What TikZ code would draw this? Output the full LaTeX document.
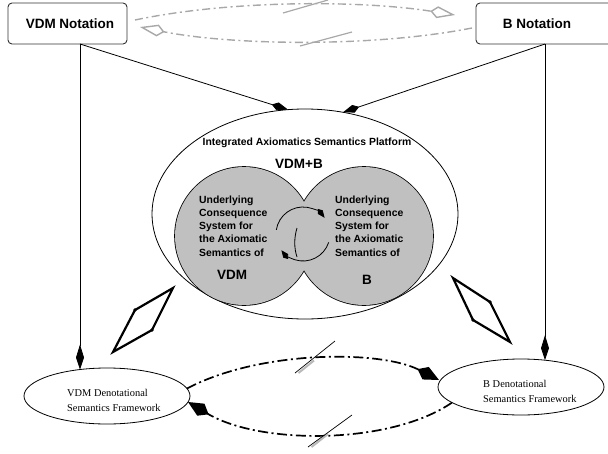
\documentclass[tikz,border=0pt]{standalone}
\usepackage{fontspec}
\setmainfont{Liberation Serif}
\setsansfont{Liberation Sans}
\usetikzlibrary{arrows.meta,shapes.geometric}
\definecolor{circgray}{RGB}{192,192,192}
\definecolor{dashgray}{RGB}{168,168,168}
\definecolor{boxline}{RGB}{50,50,50}
\tikzset{
  notebox/.style={draw=boxline, line width=0.9pt, rounded corners=4pt, inner sep=0pt},
  notetext/.style={inner sep=0pt, font=\sffamily\bfseries\fontsize{13.5}{16}\selectfont},
  denot/.style={draw, ellipse, line width=0.8pt, inner sep=0pt, minimum width=166pt, minimum height=56pt},
  denottext/.style={align=left, inner sep=0pt, anchor=north west, font=\rmfamily\fontsize{10.4}{15}\selectfont},
  platform/.style={draw, ellipse, line width=0.8pt, inner sep=0pt, minimum width=306pt, minimum height=210pt},
  subsys/.style={circle, fill=circgray, inner sep=0pt, minimum size=138pt},
  subline/.style={circle, draw=black, line width=1.6pt, inner sep=0pt, minimum size=138pt},
  subtext/.style={align=left, inner sep=0pt, anchor=north west, font=\sffamily\bfseries\fontsize{10.4}{13.25}\selectfont},
  bigtext/.style={inner sep=0pt, font=\sffamily\bfseries\fontsize{13.5}{16}\selectfont},
  titletext/.style={inner sep=0pt, font=\sffamily\bfseries\fontsize{10.4}{12}\selectfont},
  thinarrow/.style={line width=0.8pt, -{Kite[length=25pt,width=8pt,inset=13pt]}},
  slantarrow/.style={line width=0.8pt, -{Kite[length=17pt,width=8pt,inset=6pt]}},
  cyclearrow/.style={line width=0.8pt, -{Kite[length=11pt,width=6pt,inset=4pt]}},
  denotarrow/.style={line width=1.7pt, dash pattern=on 10pt off 3.5pt on 2pt off 3.5pt, -{Kite[length=24pt,width=14pt,inset=9pt]}},
  notearrow/.style={draw=dashgray, line width=1.4pt, dash pattern=on 8pt off 3.5pt on 2pt off 3.5pt, -{Kite[open,length=25pt,width=12pt,inset=7pt]}},
  equivmark/.style={line width=2.2pt, line join=miter},
}
\begin{document}
\begin{tikzpicture}[x=1pt,y=-1pt]
\useasboundingbox (0,0) rectangle (608,453);
\begin{scope}
\clip (0,0) rectangle (608,453);
% top boxes
\node[notebox, minimum width=119pt, minimum height=41pt] (vdmN) at (67.5,23.5) {};
\node[notetext] (vdmNt) at (70,23.5) {VDM Notation};
\node[notebox, minimum width=140pt, minimum height=41pt] (bN) at (546,23.5) {};
\node[notetext] (bNt) at (537,23.5) {B Notation};
\end{scope}

% platform ellipse
\node[platform] (plat) at (305,214) {};
\node[titletext] (platT) at (307,143) {Integrated Axiomatics Semantics Platform};
\node[bigtext] (vdmb) at (299,163.5) {VDM+B};

% consequence systems
\node[subline] (vdmCo) at (244,236) {};
\node[subline] (bCo) at (364,236) {};
\node[subsys] (vdmC) at (244,236) {};
\node[subsys] (bC) at (364,236) {};
\node[subtext] (vdmCt) at (199,195.5) {Underlying\\Consequence\\System for\\the Axiomatic\\Semantics of};
\node[subtext] (bCt) at (335,195.5) {Underlying\\Consequence\\System for\\the Axiomatic\\Semantics of};
\node[bigtext] (vdmL) at (232,275) {VDM};
\node[bigtext] (bL) at (367,280) {B};

% cycle arrows
\coordinate (cyc) at (303,234);
\draw[cyclearrow] (cyc) ++(189:27) arc[start angle=189, end angle=323, radius=27];
\draw[cyclearrow] (cyc) ++(18:27) arc[start angle=18, end angle=143, radius=27];
\draw[line width=0.8pt] (297,228) .. controls (294,238) and (294,248) .. (297,257);

% denotational frameworks
\node[denot] (vdmD) at (107,396) {};
\node[denottext] (vdmDt) at (67,389) {VDM Denotational\\Semantics Framework};
\node[denot] (bD) at (521,387) {};
\node[denottext] (bDt) at (483,380) {B Denotational\\Semantics Framework};

% connector points
\coordinate (vdmFoot) at (80,44);
\coordinate (bFoot) at (545,44);
\coordinate (platL) at (288,109.6);
\coordinate (platR) at (343,112.3);
\coordinate (vdmDtop) at (80,369.5);
\coordinate (bDtop) at (545,360.2);

\draw[thinarrow] (vdmFoot) -- (vdmDtop);
\draw[thinarrow] (bFoot) -- (bDtop);
\draw[slantarrow] (vdmFoot) -- (platL);
\draw[slantarrow] (bFoot) -- (platR);

% gray notation links
\coordinate (gS1) at (135,20);
\coordinate (gE1) at (455,15);
\coordinate (gS2) at (472,28);
\coordinate (gE2) at (140,27);
\draw[notearrow] (gS1) .. controls (230,0) and (360,0) .. (gE1);
\draw[notearrow] (gS2) .. controls (370,48) and (230,45) .. (gE2);
\draw[dashgray, line width=1.2pt] (283,13) -- (328,0);
\draw[dashgray, line width=1.2pt] (300,46) -- (352,32);

% denotational links
\coordinate (dUs) at (187,388.5);
\coordinate (dUe) at (439,380);
\coordinate (dLs) at (452,402.6);
\coordinate (dLe) at (188,402);
\draw[denotarrow] (dUs) .. controls (260,350) and (380,350) .. (dUe);
\draw[denotarrow] (dLs) .. controls (390,445) and (260,445) .. (dLe);
\draw[gray!55, line width=2pt] (298.5,373) -- (314,360.5);
\draw[line width=0.7pt] (295,373) -- (335,341);
\draw[gray!55, line width=2pt] (311.5,447) -- (328,434);
\draw[line width=0.7pt] (308,447) -- (352,415);

% equivalence marks
\draw[equivmark] (113,352) -- (135,310) -- (173,288) -- (152,330) -- cycle;
\fill (135,310) circle[radius=1.8];
\fill (152,330) circle[radius=1.8];
\draw[equivmark] (453,278) -- (490,302) -- (510,342) -- (473,320) -- cycle;
\fill (490,302) circle[radius=1.8];
\fill (473,320) circle[radius=1.8];
\end{tikzpicture}
\end{document}
